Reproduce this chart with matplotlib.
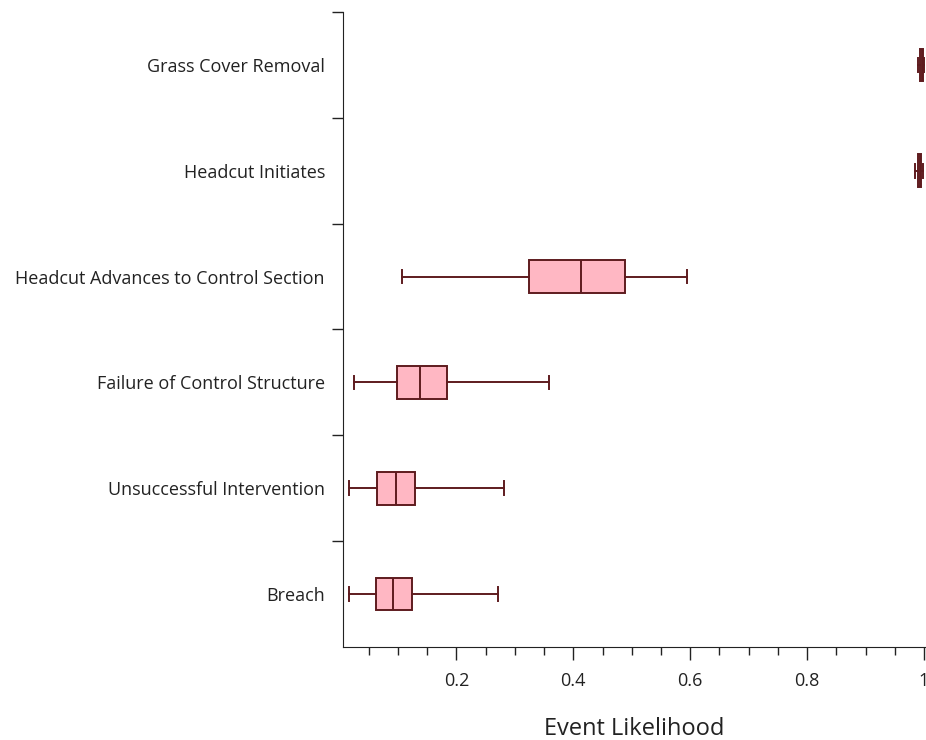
import matplotlib.pyplot as plt
from matplotlib.ticker import MultipleLocator, FixedLocator

plt.rcParams['font.family'] = ['Open Sans', 'DejaVu Sans']

# категории сверху вниз
categories = [
    "Grass Cover Removal",
    "Headcut Initiates",
    "Headcut Advances to Control Section",
    "Failure of Control Structure",
    "Unsuccessful Intervention",
    "Breach",
]
whislo = [0.990, 0.984, 0.107, 0.025, 0.017, 0.017]
q1 = [0.993, 0.990, 0.325, 0.099, 0.065, 0.063]
med = [0.996, 0.993, 0.413, 0.137, 0.096, 0.091]
q3 = [0.999, 0.995, 0.488, 0.184, 0.129, 0.124]
whishi = [1.000, 0.998, 0.594, 0.359, 0.282, 0.271]

edge = '#5e1b1e'
fill = '#ffb7c3'
txt = '#222222'

fig = plt.figure(figsize=(9.26, 7.4), dpi=100)
ax = fig.add_axes([0.3704, 0.1257, 0.6296, 0.8581])

n = len(categories)
stats = []
for i in range(n):
    stats.append(dict(whislo=whislo[i], q1=q1[i], med=med[i], q3=q3[i],
                      whishi=whishi[i], fliers=[], label=categories[i]))
pos = [n - i for i in range(n)]

ax.bxp(stats, positions=pos, vert=False, widths=0.31, capwidths=0.13,
       showfliers=False, patch_artist=True,
       boxprops=dict(facecolor=fill, edgecolor=edge, linewidth=1.4),
       medianprops=dict(color=edge, linewidth=1.4),
       whiskerprops=dict(color=edge, linewidth=1.4),
       capprops=dict(color=edge, linewidth=1.4))

ax.set_xlim(0.006, 1.0034)
ax.set_ylim(0.5, n + 0.5)

ax.spines['top'].set_visible(False)
ax.spines['right'].set_visible(False)
ax.spines['left'].set_color('#222222')
ax.spines['bottom'].set_color('#222222')

ax.xaxis.set_major_locator(FixedLocator([0.2, 0.4, 0.6, 0.8, 1.0]))
ax.xaxis.set_minor_locator(MultipleLocator(0.05))
ax.set_xticklabels(['0.2', '0.4', '0.6', '0.8', '1'])
ax.tick_params(axis='x', which='major', length=9, width=1, colors='#222222',
               labelsize=13, labelcolor=txt, pad=9)
ax.tick_params(axis='x', which='minor', length=6, width=1, colors='#222222')

# границы категорий - риски, подписи по центрам
ax.yaxis.set_major_locator(FixedLocator([k + 0.5 for k in range(1, n + 1)]))
ax.yaxis.set_major_formatter(plt.NullFormatter())
ax.yaxis.set_minor_locator(FixedLocator(pos))
ax.set_yticks(pos, categories, minor=True)
ax.tick_params(axis='y', which='major', length=8, width=1, colors='#222222')
ax.tick_params(axis='y', which='minor', length=0, pad=13, labelsize=13,
               labelcolor=txt)

ax.set_xlabel("Event Likelihood", fontsize=17, color=txt, labelpad=19.5)

fig.savefig("out.png", dpi=100)
